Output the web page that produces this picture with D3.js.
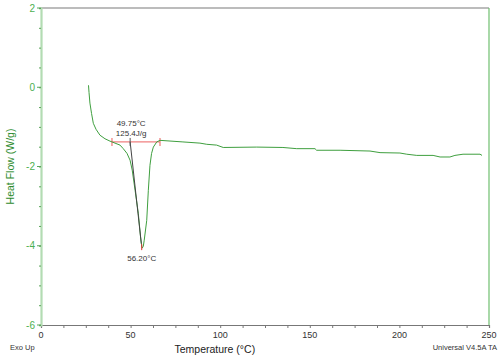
<!DOCTYPE html>
<html>
<head>
<meta charset="utf-8">
<script src="https://cdn.jsdelivr.net/npm/d3@7"></script>
<style>
  body { margin: 0; background: #fff; }
  svg text { font-family: Arial, "Liberation Sans", sans-serif; }
</style>
</head>
<body>
<div id="chart"></div>
<script>
// DSC trace: temperature (°C) and heat flow (W/g)
const temps = [26.5, 26.8, 27.3, 28.2, 29.2, 30.7, 32.9, 35.7, 38.5, 41.3, 44.1, 45.9, 48.0, 49.7,
    50.9, 52.5, 54.3, 55.5, 56.2, 56.5, 57.1, 57.6, 59.0, 59.9, 60.8, 61.7, 62.7, 64.6, 66.4,
    79.2, 88.7, 92.5, 98.0, 101.7, 120.4, 135.0, 142.7, 152.9, 153.8, 166.9, 183.6, 189.2,
    200.3, 204.1, 209.7, 218.8, 222.7, 228.2, 231.0, 235.5, 245.0, 246.1];
const heatFlow = [0.05, -0.13, -0.40, -0.66, -0.91, -1.06, -1.21, -1.30, -1.36, -1.41, -1.46, -1.55, -1.67, -1.84,
    -2.09, -2.60, -3.18, -3.76, -4.01, -4.06, -4.01, -3.86, -3.36, -2.60, -1.97, -1.67, -1.51, -1.38, -1.34,
    -1.38, -1.41, -1.44, -1.46, -1.52, -1.51, -1.52, -1.55, -1.55, -1.59, -1.59, -1.61, -1.65,
    -1.66, -1.69, -1.72, -1.72, -1.76, -1.76, -1.72, -1.69, -1.69, -1.72];

// peak analysis
const baseline = {x1: 39.6, x2: 66.4, y: -1.38};
const onset = {x: 49.75, y: -1.38, label: "49.75°C", area: "125.4J/g"};
const tangentEnd = {x: 56.0, y: -3.95};
const peak = {x: 56.2, y: -4.06, label: "56.20°C"};

const xTicks = [0, 50, 100, 150, 200, 250];
const yTicks = [2, 0, -2, -4, -6];

const width = 500, height = 359;
const margin = {top: 8, right: 11, bottom: 34, left: 41};
const w = width - margin.left - margin.right;
const h = height - margin.top - margin.bottom;

const svg = d3.select("#chart").append("svg")
    .attr("width", width)
    .attr("height", height);

const g = svg.append("g")
    .attr("transform", "translate(" + margin.left + "," + margin.top + ")");

const x = d3.scaleLinear().domain([0, 250]).range([0, w]);
const y = d3.scaleLinear().domain([-6, 2]).range([h, 0]);

// frame: grey top, green right
g.append("line").attr("x1", 0).attr("x2", w).attr("y1", 0).attr("y2", 0)
    .attr("stroke", "#7a7a7a").attr("stroke-width", 1.2);
g.append("line").attr("x1", w).attr("x2", w).attr("y1", 0).attr("y2", h)
    .attr("stroke", "#6fbf6f").attr("stroke-width", 1.2);

// x axis
const xAxis = g.append("g")
    .attr("transform", "translate(0," + h + ")")
    .call(d3.axisBottom(x).tickValues(d3.range(0, 250.1, 12.5)).tickSize(3).tickFormat(""));
xAxis.select(".domain").attr("stroke", "#777").attr("stroke-width", 1.2);
xAxis.selectAll(".tick line").attr("stroke", "#777");
g.append("g").selectAll("text")
    .data(xTicks)
    .enter()
    .append("text")
    .attr("x", d => x(d))
    .attr("y", h + 13)
    .attr("text-anchor", "middle")
    .attr("font-size", 9)
    .attr("fill", "#333")
    .text(d => d);

// y axis (light green)
const yAxis = g.append("g")
    .call(d3.axisLeft(y).tickValues(d3.range(-6, 2.01, 0.5)).tickSize(2).tickFormat(""));
yAxis.select(".domain").attr("stroke", "#b3dcb3").attr("stroke-width", 2.2);
yAxis.selectAll(".tick line").attr("stroke", "#5aa55a");
g.append("g").selectAll("line")
    .data(yTicks)
    .enter()
    .append("line")
    .attr("x1", -4).attr("x2", 0)
    .attr("y1", d => y(d)).attr("y2", d => y(d))
    .attr("stroke", "#5aa55a");
g.append("g").selectAll("text")
    .data(yTicks)
    .enter()
    .append("text")
    .attr("x", -6)
    .attr("y", d => y(d) + 3.5)
    .attr("text-anchor", "end")
    .attr("font-size", 10)
    .attr("fill", "#4caf50")
    .text(d => d);

// axis titles
svg.append("text")
    .attr("transform", "translate(14," + (margin.top + h / 2) + ") rotate(-90)")
    .attr("text-anchor", "middle")
    .attr("font-size", 10.5)
    .attr("fill", "#2e8b2e")
    .text("Heat Flow (W/g)");

svg.append("text")
    .attr("x", margin.left + x(97))
    .attr("y", 353)
    .attr("text-anchor", "middle")
    .attr("font-size", 10.5)
    .attr("fill", "#222")
    .text("Temperature (°C)");

svg.append("text")
    .attr("x", 10).attr("y", 350)
    .attr("font-size", 7.5).attr("fill", "#333")
    .text("Exo Up");

svg.append("text")
    .attr("x", 497).attr("y", 350)
    .attr("text-anchor", "end")
    .attr("font-size", 7.5).attr("fill", "#333")
    .text("Universal V4.5A TA");

// baseline for integration
g.append("line")
    .attr("x1", x(baseline.x1)).attr("x2", x(baseline.x2))
    .attr("y1", y(baseline.y)).attr("y2", y(baseline.y))
    .attr("stroke", "#f08080").attr("stroke-width", 1.3);
g.selectAll(".bl-tick")
    .data([baseline.x1, baseline.x2])
    .enter()
    .append("line")
    .attr("class", "bl-tick")
    .attr("x1", d => x(d)).attr("x2", d => x(d))
    .attr("y1", y(baseline.y) - 4).attr("y2", y(baseline.y) + 4)
    .attr("stroke", "#f08080").attr("stroke-width", 1.3);

// curve
const line = d3.line()
    .x(d => x(d[0]))
    .y(d => y(d[1]));
g.append("path")
    .datum(d3.zip(temps, heatFlow))
    .attr("fill", "none")
    .attr("stroke", "#3f9f3f")
    .attr("stroke-width", 1)
    .attr("d", line);

// onset tangent
g.append("line")
    .attr("x1", x(onset.x)).attr("y1", y(onset.y))
    .attr("x2", x(tangentEnd.x)).attr("y2", y(tangentEnd.y))
    .attr("stroke", "#444").attr("stroke-width", 1);
g.append("line")
    .attr("x1", x(onset.x)).attr("x2", x(onset.x))
    .attr("y1", y(onset.y) - 4).attr("y2", y(onset.y) + 4)
    .attr("stroke", "#555").attr("stroke-width", 1);

// peak marker
g.append("line")
    .attr("x1", x(peak.x)).attr("x2", x(peak.x))
    .attr("y1", y(peak.y) - 4).attr("y2", y(peak.y) + 2)
    .attr("stroke", "#e03030").attr("stroke-width", 1);

// annotations
g.append("text")
    .attr("x", x(onset.x) + 1).attr("y", y(onset.y) - 16)
    .attr("text-anchor", "middle")
    .attr("font-size", 8).attr("fill", "#333")
    .text(onset.label);
g.append("text")
    .attr("x", x(onset.x) + 1).attr("y", y(onset.y) - 6)
    .attr("text-anchor", "middle")
    .attr("font-size", 8).attr("fill", "#333")
    .text(onset.area);
g.append("text")
    .attr("x", x(peak.x)).attr("y", y(peak.y) + 13)
    .attr("text-anchor", "middle")
    .attr("font-size", 8).attr("fill", "#333")
    .text(peak.label);
</script>
</body>
</html>
